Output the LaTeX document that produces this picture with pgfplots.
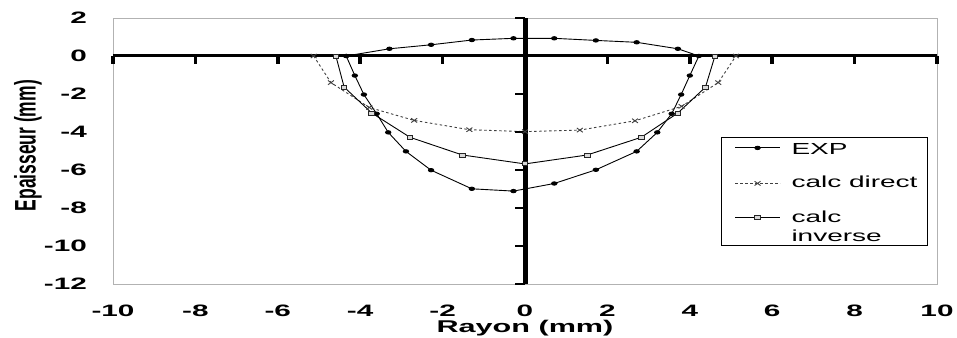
\documentclass[border=0pt]{standalone}
\usepackage{pgfplots}
\pgfplotsset{compat=1.18}
\usepackage{fontspec}
\setmainfont{Liberation Sans}
\usepackage{graphicx}
\newcommand{\hs}[1]{\scalebox{1.8}[1]{#1}}
\newcommand{\ls}[1]{\scalebox{1.75}[1]{#1}}
\begin{document}
\begin{tikzpicture}
\begin{axis}[name=ax, scale only axis, width=824pt, height=266pt,
 xmin=-10, xmax=10, ymin=-12, ymax=2, clip=false,
 axis line style={gray!60, line width=0.8pt},
 major tick length=0pt, tick style={draw=none},
 xtick={-10,-8,...,10}, ytick={-12,-10,...,2},
 xticklabels={\hs{-10},\hs{-8},\hs{-6},\hs{-4},\hs{-2},\hs{0},\hs{2},\hs{4},\hs{6},\hs{8},\hs{10}},
 yticklabels={\hs{-12},\hs{-10},\hs{-8},\hs{-6},\hs{-4},\hs{-2},\hs{0},\hs{2}},
 every tick label/.append style={font=\fontsize{16.5}{19}\selectfont\bfseries, inner sep=0pt},
 xticklabel style={anchor=north, yshift=-21pt},
 yticklabel style={anchor=east, xshift=-26pt},
 xlabel={\hs{Rayon (mm)}},
 ylabel={\scalebox{1}[1.7]{Epaisseur (mm)}},
 xlabel style={at={(axis description cs:0.5,0)}, anchor=north, yshift=-36pt, inner sep=0pt, font=\fontsize{17}{19}\selectfont\bfseries},
 ylabel style={at={(axis description cs:-0.0862,0.52)}, anchor=south, inner sep=0pt, font=\fontsize{17.5}{20}\selectfont\bfseries},
 legend image code/.code={\path (0pt,0pt); \draw[mark repeat=2, mark phase=2, #1] plot coordinates {(8.5pt,0pt) (31pt,0pt) (53.5pt,0pt)};},
 legend style={at={(0.989,0.5526)}, anchor=north east, draw=black, line width=0.8pt, fill=white,
   font=\fontsize{16}{19}\selectfont, row sep=18.7pt, column sep=5.5pt, inner xsep=4.5pt, inner ysep=1pt,
   nodes={inner xsep=5.5pt, inner ysep=0pt, text depth=3pt}},
 legend cell align=left,
]
\addplot[black, line width=0.9pt, mark=*, mark size=1.7pt, mark options={xscale=1.6}] coordinates {
(-4.34,0) (-4.13,-1.03) (-3.91,-2.03) (-3.60,-3.04) (-3.32,-4.02) (-2.89,-5.02) (-2.28,-6.01)
(-1.29,-6.99) (-0.28,-7.11) (0.71,-6.71) (1.72,-5.99) (2.71,-5.02) (3.21,-4.02) (3.56,-3.04)
(3.79,-2.03) (4.00,-1.03) (4.22,0) (3.71,0.38) (2.71,0.72) (1.72,0.82) (0.71,0.93) (-0.28,0.93)
(-1.29,0.84) (-2.28,0.59) (-3.29,0.38) (-4.34,0)};
\addlegendentry{\ls{\rule{0pt}{16pt}EXP}}
\addplot[black!75, line width=0.9pt, dash pattern=on 2.5pt off 2.5pt, mark=x, mark size=3pt, mark options={solid, xscale=1.4}] coordinates {
(-5.13,0) (-4.71,-1.40) (-3.78,-2.71) (-2.69,-3.39) (-1.35,-3.88) (0,-3.98) (1.33,-3.90)
(2.67,-3.41) (3.80,-2.65) (4.69,-1.40) (5.12,0)};
\addlegendentry{\ls{calc direct}}
\addplot[black, line width=0.9pt, mark=square*, mark size=2pt, mark options={fill=gray!30, draw=black!85, xscale=1.4}, legend image post style={yshift=10pt}] coordinates {
(-4.59,0) (-4.39,-1.64) (-3.72,-3.00) (-2.79,-4.28) (-1.52,-5.21) (0,-5.68) (1.51,-5.21)
(2.82,-4.28) (3.71,-3.00) (4.38,-1.64) (4.61,0)};
\addlegendentry{\ls{\begin{tabular}[b]{@{}l@{}}calc\\inverse\end{tabular}}}
\draw[line width=3pt] (axis cs:-10,0) -- (axis cs:10,0);
\draw[line width=5pt] (axis cs:0,-12) -- (axis cs:0,2);
\pgfplotsinvokeforeach{-10,-8,...,10}{\draw[line width=3.5pt] (axis cs:#1,0) -- ++(0pt,-8pt);}
\pgfplotsinvokeforeach{-12,-10,...,2}{\draw[line width=2.5pt] (axis cs:0,#1) -- ++(-10pt,0pt);}
\end{axis}
\path (ax.south west) ++(-113pt,-53pt) rectangle ++(957pt,337pt);
\end{tikzpicture}
\end{document}
